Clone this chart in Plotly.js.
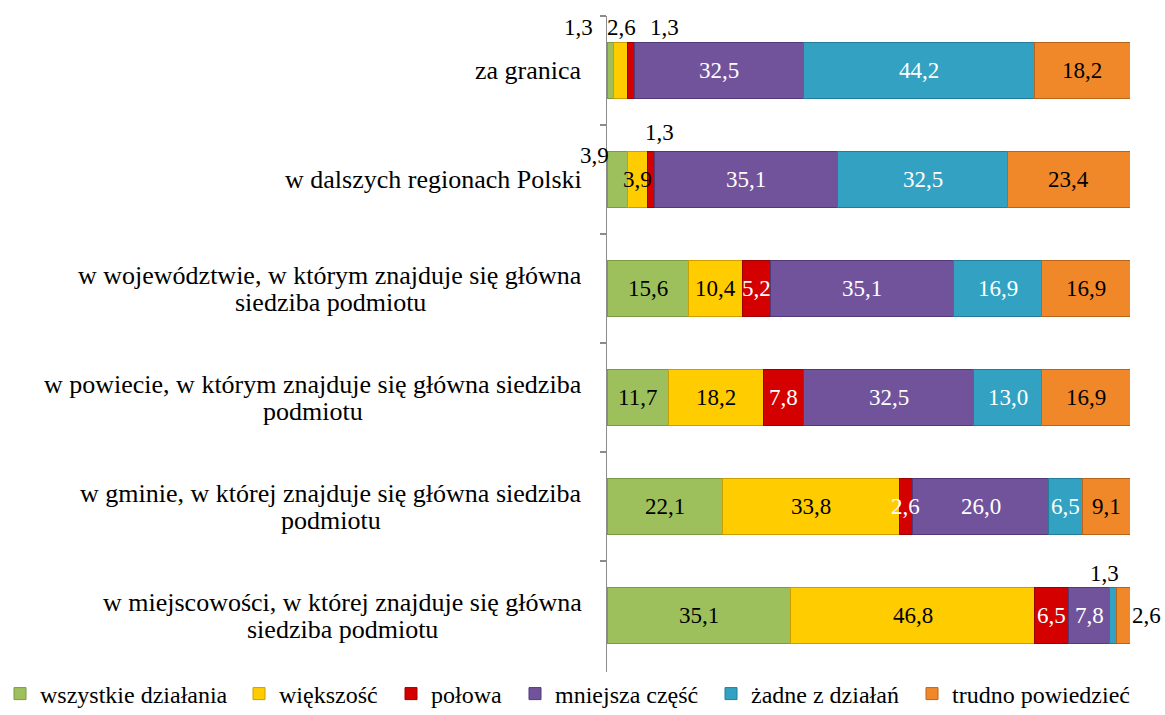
<!DOCTYPE html>
<html>
<head>
<meta charset="utf-8">
<script src="https://cdn.plot.ly/plotly-3.0.1.min.js"></script>
<style>html,body{margin:0;padding:0;background:#fff;}#chart{width:1165px;height:715px;}</style>
</head>
<body>
<div id="chart"></div>
<script>
// Categories (top to bottom)
const categories = [
  "za granica",
  "w dalszych regionach Polski",
  "w województwie, w którym znajduje się główna<br>siedziba podmiotu",
  "w powiecie, w którym znajduje się główna siedziba<br>podmiotu",
  "w gminie, w której znajduje się główna siedziba<br>podmiotu",
  "w miejscowości, w której znajduje się główna<br>siedziba podmiotu"
];
const seriesNames = ["wszystkie działania", "większość", "połowa", "mniejsza część", "żadne z działań", "trudno powiedzieć"];
const wszystkie = [1.3, 3.9, 15.6, 11.7, 22.1, 35.1];
const wiekszosc = [2.6, 3.9, 10.4, 18.2, 33.8, 46.8];
const polowa    = [1.3, 1.3, 5.2, 7.8, 2.6, 6.5];
const mniejsza  = [32.5, 35.1, 35.1, 32.5, 26.0, 7.8];
const zadne     = [44.2, 32.5, 16.9, 13.0, 6.5, 1.3];
const trudno    = [18.2, 23.4, 16.9, 16.9, 9.1, 2.6];
const seriesValues = [wszystkie, wiekszosc, polowa, mniejsza, zadne, trudno];

// Styles
const fillColors = ["#9dc05c", "#ffcc00", "#d40000", "#71539b", "#33a2c2", "#f0882a"];
const lineColors = ["#7a9a45", "#c9a000", "#9a0000", "#54397a", "#247d98", "#b8651c"];
const textColors = ["#000000", "#000000", "#ffffff", "#ffffff", "#ffffff", "#000000"];
// labels drawn outside their bars (black): [series, category, xshift, yshift]
const outsideLabels = [
  [0, 0, -32, 43], [1, 0, 1, 43], [2, 0, 34, 43],
  [0, 1, -23, 24], [2, 1, 8, 47],
  [4, 5, -9, 42], [5, 5, 23, 0]
];
// legend entry left edges (pixels)
const legendLeft = [0, 239, 391, 515, 711, 912];

const FONT = "Liberation Serif, Times New Roman, serif";
const LABEL_SIZE = 26, VALUE_SIZE = 23, LEGEND_SIZE = 24, LINE_GAP = 27;
const ML = 607, MR = 35, MT = 16, MB = 43, W = 1165, H = 715;
const fmt = v => v.toFixed(1).replace('.', ',');
const outsideOf = (s, c) => outsideLabels.find(o => o[0] === s && o[1] === c);

const ctx = document.createElement('canvas').getContext('2d');
ctx.font = LABEL_SIZE + 'px "Liberation Serif"';
const textW = t => ctx.measureText(t).width;

const traces = seriesValues.map((vals, s) => ({
  type: 'bar',
  orientation: 'h',
  name: seriesNames[s],
  legend: s === 0 ? 'legend' : 'legend' + (s + 1),
  y: categories,
  x: vals,
  marker: {color: fillColors[s], line: {color: lineColors[s], width: 1}},
  hoverinfo: 'x+name'
}));

const annotations = [];
// category labels, one annotation per line, block right-aligned near the axis
categories.forEach(cat => {
  const lines = cat.split('<br>');
  const maxW = Math.max(...lines.map(textW));
  lines.forEach((ln, i) => {
    annotations.push({
      xref: 'paper', x: 0, xanchor: 'center', xshift: -25 - maxW / 2,
      yref: 'y', y: cat, yanchor: 'middle',
      yshift: ((lines.length - 1) / 2 - i) * LINE_GAP,
      text: ln, showarrow: false,
      font: {family: FONT, size: LABEL_SIZE, color: '#000'}
    });
  });
});
// value labels (drawn on top of all bars)
seriesValues.forEach((vals, s) => {
  vals.forEach((v, c) => {
    let start = 0;
    for (let k = 0; k < s; k++) start += seriesValues[k][c];
    const o = outsideOf(s, c);
    annotations.push({
      xref: 'x', x: start + v / 2,
      yref: 'y', y: categories[c],
      xshift: o ? o[2] : 0, yshift: o ? o[3] : 0,
      text: fmt(v), showarrow: false,
      font: {family: FONT, size: VALUE_SIZE, color: o ? '#000000' : textColors[s]}
    });
  });
});

const plotW = W - ML - MR, plotH = H - MT - MB;
const layout = {
  width: W, height: H,
  margin: {l: ML, r: MR, t: MT, b: MB, pad: 0, autoexpand: false},
  barmode: 'stack',
  bargap: 0.48,
  paper_bgcolor: '#fff', plot_bgcolor: '#fff',
  font: {family: FONT, size: 20, color: '#000'},
  xaxis: {range: [0, 100.1], showticklabels: false, showgrid: false, zeroline: false, showline: false, fixedrange: true, automargin: false},
  yaxis: {
    type: 'category', autorange: 'reversed', automargin: false,
    showticklabels: false, showgrid: false, zeroline: false,
    showline: true, linecolor: '#8c8c8c', linewidth: 1.5,
    ticks: 'outside', tickson: 'boundaries', ticklen: 6, tickcolor: '#8c8c8c', tickwidth: 1.5
  },
  showlegend: true,
  annotations: annotations
};
legendLeft.forEach((px, s) => {
  layout[s === 0 ? 'legend' : 'legend' + (s + 1)] = {
    orientation: 'h', x: (px - ML) / plotW, xanchor: 'left',
    y: ((H - MB) - 694) / plotH, yanchor: 'middle',
    font: {family: FONT, size: LEGEND_SIZE, color: '#000'},
    itemwidth: 30, bgcolor: 'rgba(0,0,0,0)'
  };
});

Plotly.newPlot('chart', traces, layout, {displayModeBar: false, staticPlot: true});
</script>
</body>
</html>
